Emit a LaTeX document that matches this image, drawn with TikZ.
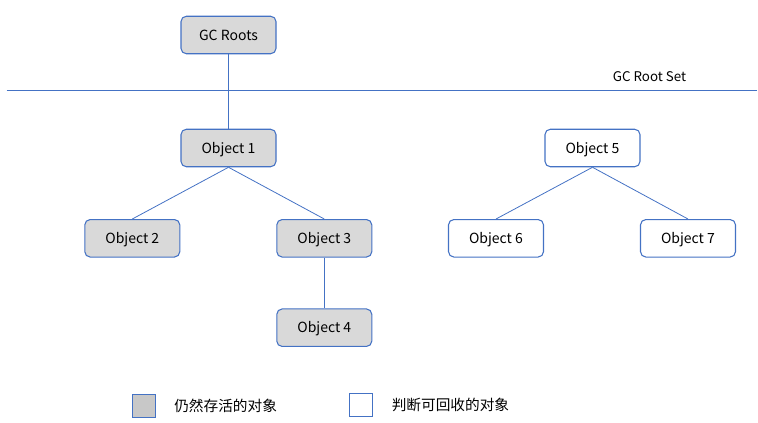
\documentclass[tikz,border=0pt]{standalone}
\usepackage{fontspec}
\setmainfont{Noto Sans CJK SC}
\begin{document}
\begin{tikzpicture}[x=0.75pt,y=-0.75pt,
  lblue/.style={draw={rgb,255:red,68;green,114;blue,196}},
  objbox/.style={lblue, line width=0.8pt, rounded corners=4pt, minimum width=95*0.75pt, minimum height=37.5*0.75pt, inner sep=0pt, text height=7.6pt, text depth=0pt, font=\fontsize{10.5pt}{12pt}\selectfont},
  alive/.style={objbox, fill={rgb,255:red,217;green,217;blue,217}},
  dead/.style={objbox, fill=white},
  conn/.style={lblue, line width=0.6pt},
  legtext/.style={anchor=west, inner sep=0pt, text height=8pt, text depth=0pt, font=\fontsize{11pt}{13pt}\selectfont}
]
\useasboundingbox (0,0) rectangle (758,423);
\node[alive] (gc) at (228.5,35) {GC Roots};
\coordinate (l) at (6.5,90);
\coordinate (r) at (757,90);
\draw[conn] (l) -- (r);
\node[anchor=center, inner sep=0pt, text height=7.3pt, text depth=0pt, font=\fontsize{10pt}{12pt}\selectfont] (set) at (649.5,77) {GC Root Set};
\node[alive] (o1) at (228.5,148) {Object 1};
\node[alive] (o2) at (132.3,238.3) {Object 2};
\node[alive] (o3) at (324.3,238.3) {Object 3};
\node[alive] (o4) at (324.3,327.7) {Object 4};
\node[dead] (o5) at (592.5,148) {Object 5};
\node[dead] (o6) at (496,238.3) {Object 6};
\node[dead] (o7) at (688,238.3) {Object 7};
\draw[conn] (gc.south) -- (o1.north);
\draw[conn] (o1.south) -- (o2.north);
\draw[conn] (o1.south) -- (o3.north);
\draw[conn] (o3.south) -- (o4.north);
\draw[conn] (o5.south) -- (o6.north);
\draw[conn] (o5.south) -- (o7.north);
\node[lblue, line width=0.8pt, fill={rgb,255:red,200;green,200;blue,200}, minimum size=23*0.75pt, inner sep=0pt] (k1) at (143.8,406.3) {};
\node[legtext] (t1) at (174,406.5) {仍然存活的对象};
\node[lblue, line width=0.8pt, fill=white, minimum size=23*0.75pt, inner sep=0pt] (k2) at (360.8,405.3) {};
\node[legtext] (t2) at (391.5,405.5) {判断可回收的对象};
\end{tikzpicture}
\end{document}
